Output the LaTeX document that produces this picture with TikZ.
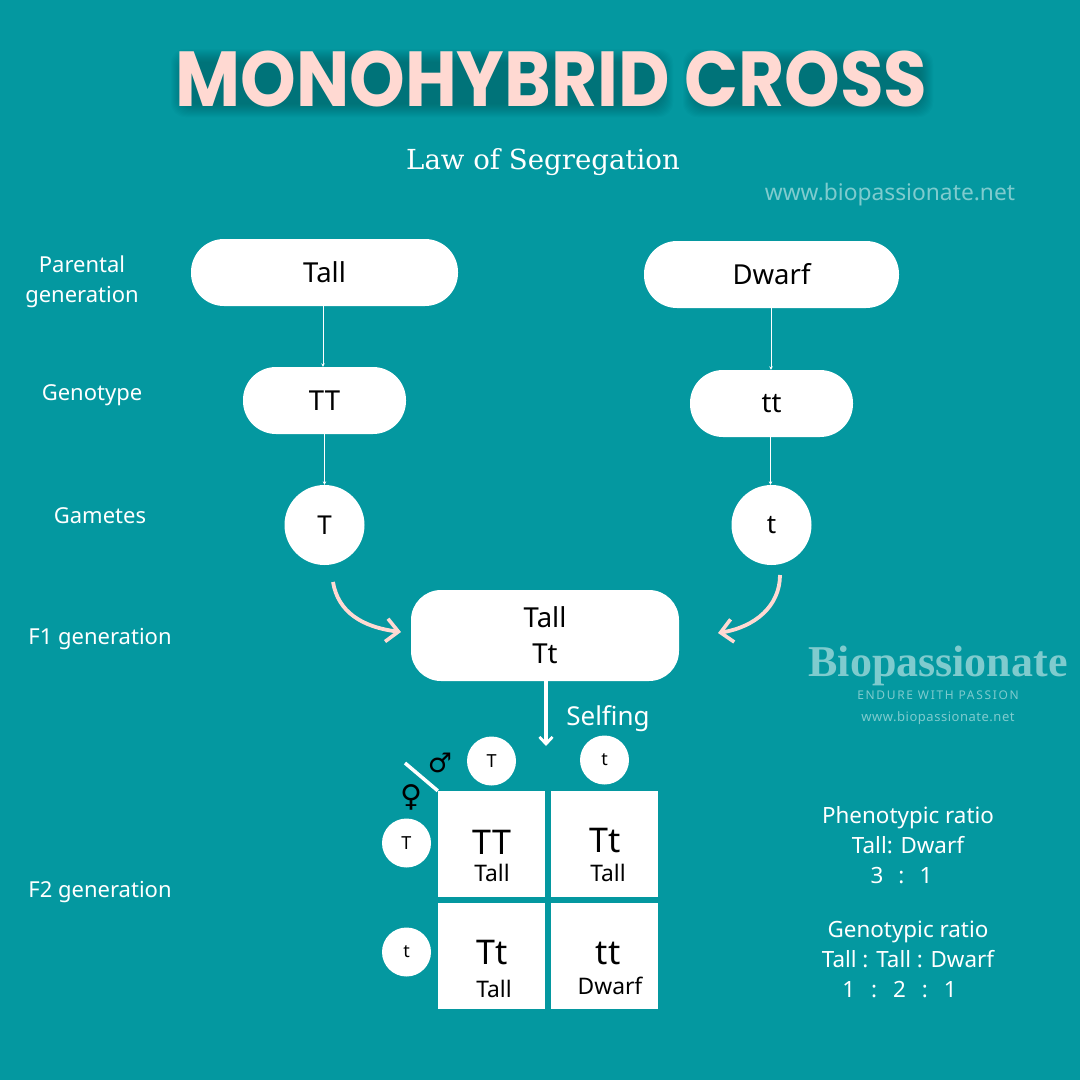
\documentclass[tikz,border=0pt]{standalone}
\usepackage{fontspec}
\setmainfont{Noto Sans}
\newfontfamily\titlefont{Poppins}[UprightFont=* Bold,FakeStretch=0.908]
\newfontfamily\slabfont{DejaVu Serif}
\newfontfamily\brandfont{Liberation Serif}[UprightFont=* Bold]
\newfontfamily\symbfont{DejaVu Sans}
\newfontfamily\spacedfont{Noto Sans}[LetterSpace=14]
\newfontfamily\sitefont{Noto Sans}[LetterSpace=4]
\usetikzlibrary{arrows.meta}
\definecolor{teal}{HTML}{0498A0}
\definecolor{blush}{HTML}{FFD9D2}
\definecolor{pale}{HTML}{7FCBCE}
\def\fs#1#2{\fontsize{#1}{#2}\selectfont}

\begin{document}
\begin{tikzpicture}[x=1pt,y=-1pt,>={Stealth[length=3.5pt,width=3.5pt]},
		pill/.style={fill=white,rounded corners=#1,inner sep=0pt,align=center,font=\fs{27.5}{36}},
		spot/.style={fill=white,circle,inner sep=0pt,minimum size=80pt,font=\fs{26}{30}},
		small spot/.style={fill=white,circle,inner sep=0pt,minimum size=49pt,font=\fs{18}{22}},
		cell/.style={fill=white,minimum width=107pt,minimum height=106pt,inner sep=0pt},
		side/.style={text=white,align=center,font=\fs{22}{30}},
		ratio/.style={text=white,align=center,font=\fs{22.4}{30}},
		big/.style={font=\fs{34}{36}},
		sub/.style={font=\fs{22.8}{24}},
		thin arrow/.style={->,white,line width=0.6pt},
		cross arrow/.style={->,blush,line width=3.8pt,>={Straight Barb[length=12pt,width=23pt,line width=3.6pt]}}]
	\useasboundingbox (0,0) rectangle (1080,1080);
	\fill[teal] (0,0) rectangle (1080,1080);

	% heading
	\foreach \g in {0,...,13} {
		\fill[black,opacity=.017,rounded corners=14pt] (184-\g,62-\g) rectangle (660+\g,104+\g);
		\fill[black,opacity=.017,rounded corners=14pt] (696-\g,62-\g) rectangle (920+\g,104+\g);
	}
	\node[text=blush,font=\titlefont\fs{78}{90}] (heading) at (551.5,79) {MONOHYBRID CROSS};
	\node[text=white,font=\slabfont\fs{27.6}{30}] (law) at (543,162) {Law of Segregation};
	\node[text=pale,font=\fs{22.8}{26}] (site) at (890,195) {www.biopassionate.net};

	% parents
	\node[pill=33pt,minimum width=267pt,minimum height=67pt] (Tall) at (324.5,272.5) {Tall};
	\node[pill=33pt,minimum width=255pt,minimum height=67pt] (Dwarf) at (771.5,274.5) {Dwarf};
	\node[pill=33pt,minimum width=163pt,minimum height=67pt] (TT) [below of=Tall,node distance=128pt] {TT};
	\node[pill=33pt,minimum width=163pt,minimum height=67pt] (tt) [below of=Dwarf,node distance=129pt] {tt};
	\node[spot] (T) [below of=TT,node distance=124.5pt] {T};
	\node[spot] (t) [below of=tt,node distance=121.5pt] {t};
	\node[pill=30pt,minimum width=268pt,minimum height=91pt] (F1) at (545,635.5) {Tall\\Tt};

	\coordinate (Tfoot) at (333,582);
	\coordinate (tfoot) at (780,575);
	\coordinate (F1left) at (401,632);
	\coordinate (F1right) at (718,633);
	\coordinate (selfend) at (546,746);

	\path
		([xshift=-1.5pt]Tall.south) edge[thin arrow] ([xshift=-1.5pt]TT.north)
		([xshift=-.5pt]Dwarf.south) edge[thin arrow] ([xshift=-.5pt]tt.north)
		(TT) edge[thin arrow] (T)
		([xshift=-1pt]tt.south) edge[thin arrow] ([xshift=-1pt]t.north);
	\draw[cross arrow] (Tfoot) .. controls (338,612) and (362,627) .. (F1left);
	\draw[cross arrow] (tfoot) .. controls (780,606) and (755,627) .. (F1right);
	\draw[white,line width=3.2pt,-{Straight Barb[length=7pt,width=13pt,line width=2.8pt]}] (F1.south -| selfend) -- (selfend);
	\node[text=white,font=\fs{26}{30}] (selfing) at (608,719) {Selfing};

	% punnett square
	\node[small spot] (topT) at (491.5,761) {T};
	\node[small spot] (topt) at (604.5,760) {t};
	\node[small spot] (leftT) at (406.5,843) {T};
	\node[small spot] (leftt) at (406.5,952) {t};
	\node[cell] (TTcell) at (491.5,844) {};
	\node[cell] (Ttcell) at (604.5,844) {};
	\node[cell] (tTcell) at (491.5,955.5) {};
	\node[cell] (ttcell) at (604.5,955.5) {};
	\node[big] (TTbig) at (492,842) {TT};
	\node[big] (Ttbig) at (605,841) {Tt};
	\node[big] (tTbig) at (492,953) {Tt};
	\node[big] (ttbig) at (608,953) {tt};
	\node[sub] (TTsub) at (492,873) {Tall};
	\node[sub] (Ttsub) at (608,873) {Tall};
	\node[sub] (tTsub) at (494,989) {Tall};
	\node[sub] (ttsub) at (610,986) {Dwarf};
	\coordinate (corner) at (405,763);
	\draw[white,line width=3.5pt] (corner) -- (TTcell.north west);
	\node[font=\symbfont\fs{27}{30}] (male) at (440,763) {♂};
	\node[font=\symbfont\fs{30}{32}] (female) at (411,797) {♀};

	% row labels
	\node[side] (parental) at (82,282) {Parental\\generation};
	\node[side] (genotype) at (92,395) {Genotype};
	\node[side] (gametes) at (100,516) {Gametes};
	\node[side] (f1gen) at (100,639) {F1 generation};
	\node[side] (f2gen) at (100,892) {F2 generation};

	% ratios
	\node[ratio] (pheno) at (908,845) {Phenotypic ratio\\Tall: Dwarf\\\hspace*{-13pt}3\hspace{15pt}:\hspace{15pt}1};
	\node[ratio] (geno) at (908,959) {Genotypic ratio\\Tall : Tall : Dwarf\\\hspace*{-17pt}1\hspace{16pt}:\hspace{16pt}2\hspace{16pt}:\hspace{16pt}1};

	% brand
	\node[text=pale,font=\brandfont\fs{44}{46}] (brand) at (938,666) {Biopassionate};
	\node[text=pale,font=\spacedfont\fs{12}{14}] (motto) at (938,695) {ENDURE WITH PASSION};
	\node[text=pale,font=\sitefont\fs{13}{14}] (brandsite) at (938,718) {www.biopassionate.net};
\end{tikzpicture}
\end{document}
